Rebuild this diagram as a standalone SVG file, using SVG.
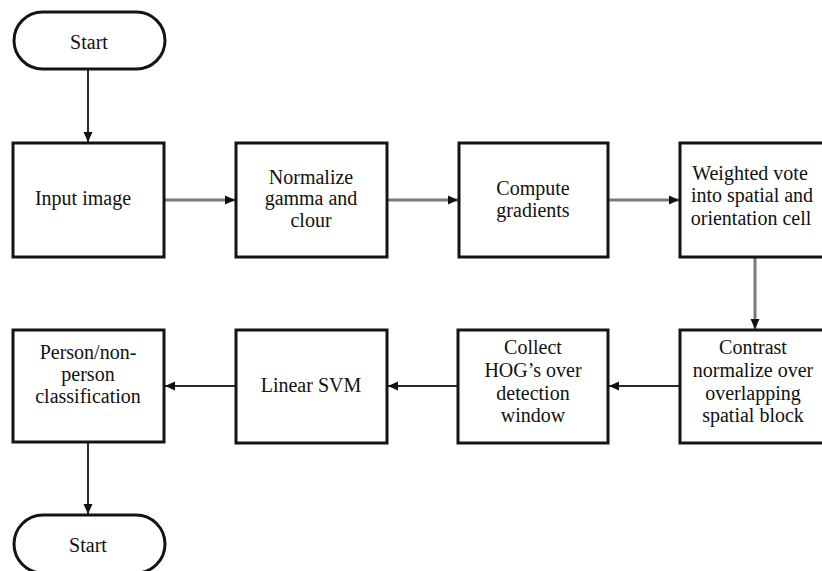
<svg xmlns="http://www.w3.org/2000/svg" width="822" height="571" viewBox="0 0 822 571">
<style>
.box{fill:#fff;stroke:#141414;stroke-width:3}
.t{font-family:'Liberation Serif','Tinos','Times New Roman','DejaVu Serif',serif;font-size:20px;fill:#111;text-anchor:middle}
.cg{fill:none;stroke:#7a7a7a;stroke-width:3}
.cd{fill:none;stroke:#2a2a2a;stroke-width:2}
</style>
<defs>
<marker id="ah" markerUnits="userSpaceOnUse" markerWidth="10" markerHeight="10" viewBox="0 0 10 10" refX="10" refY="5" orient="auto">
<path d="M0,0.5 L10,5 L0,9.5 Z" fill="#111"/>
</marker>
</defs>
<rect width="822" height="571" fill="#fff"/>
<g id="connectors">
<line class="cd" x1="88" y1="69" x2="88" y2="142" marker-end="url(#ah)"/>
<line class="cg" x1="164" y1="200" x2="235" y2="200" marker-end="url(#ah)"/>
<line class="cg" x1="387" y1="200" x2="458" y2="200" marker-end="url(#ah)"/>
<line class="cg" x1="608" y1="200" x2="679" y2="200" marker-end="url(#ah)"/>
<line class="cg" x1="755" y1="257" x2="755" y2="329" marker-end="url(#ah)"/>
<line class="cd" x1="680" y1="386" x2="609" y2="386" marker-end="url(#ah)"/>
<line class="cd" x1="458" y1="386" x2="388" y2="386" marker-end="url(#ah)"/>
<line class="cd" x1="236" y1="386" x2="165" y2="386" marker-end="url(#ah)"/>
<line class="cd" x1="88" y1="442" x2="88" y2="514" marker-end="url(#ah)"/>
</g>
<g id="start">
<rect class="box" x="14" y="12" width="151" height="57" rx="28.5"/>
<text class="t" x="89" y="49" font-family="Liberation Serif, serif">Start</text>
</g>
<g id="input">
<rect class="box" x="13" y="143" width="151" height="114"/>
<text class="t" x="83" y="205">Input image</text>
</g>
<g id="normalize">
<rect class="box" x="236" y="143" width="151" height="114"/>
<text class="t" x="311" y="184">Normalize</text>
<text class="t" x="311" y="205">gamma and</text>
<text class="t" x="311" y="227">clour</text>
</g>
<g id="gradients">
<rect class="box" x="459" y="143" width="149" height="114"/>
<text class="t" x="533" y="195">Compute</text>
<text class="t" x="533" y="217">gradients</text>
</g>
<g id="vote">
<rect class="box" x="680" y="143" width="152" height="114"/>
<text class="t" x="750" y="180">Weighted vote</text>
<text class="t" x="752" y="202">into spatial and</text>
<text class="t" x="751" y="225">orientation cell</text>
</g>
<g id="contrast">
<rect class="box" x="680" y="330" width="152" height="113"/>
<text class="t" x="753" y="354">Contrast</text>
<text class="t" x="753" y="377">normalize over</text>
<text class="t" x="753" y="400">overlapping</text>
<text class="t" x="753" y="422">spatial block</text>
</g>
<g id="collect">
<rect class="box" x="458" y="330" width="150" height="113"/>
<text class="t" x="533" y="354">Collect</text>
<text class="t" x="533" y="377">HOG’s over</text>
<text class="t" x="533" y="400">detection</text>
<text class="t" x="533" y="422">window</text>
</g>
<g id="svm">
<rect class="box" x="236" y="330" width="151" height="113"/>
<text class="t" x="311" y="392">Linear SVM</text>
</g>
<g id="classification">
<rect class="box" x="13" y="330" width="151" height="112"/>
<text class="t" x="88" y="359">Person/non-</text>
<text class="t" x="88" y="381">person</text>
<text class="t" x="88" y="403">classification</text>
</g>
<g id="end">
<rect class="box" x="14" y="515" width="151" height="58" rx="29"/>
<text class="t" x="88" y="552">Start</text>
</g>
</svg>
